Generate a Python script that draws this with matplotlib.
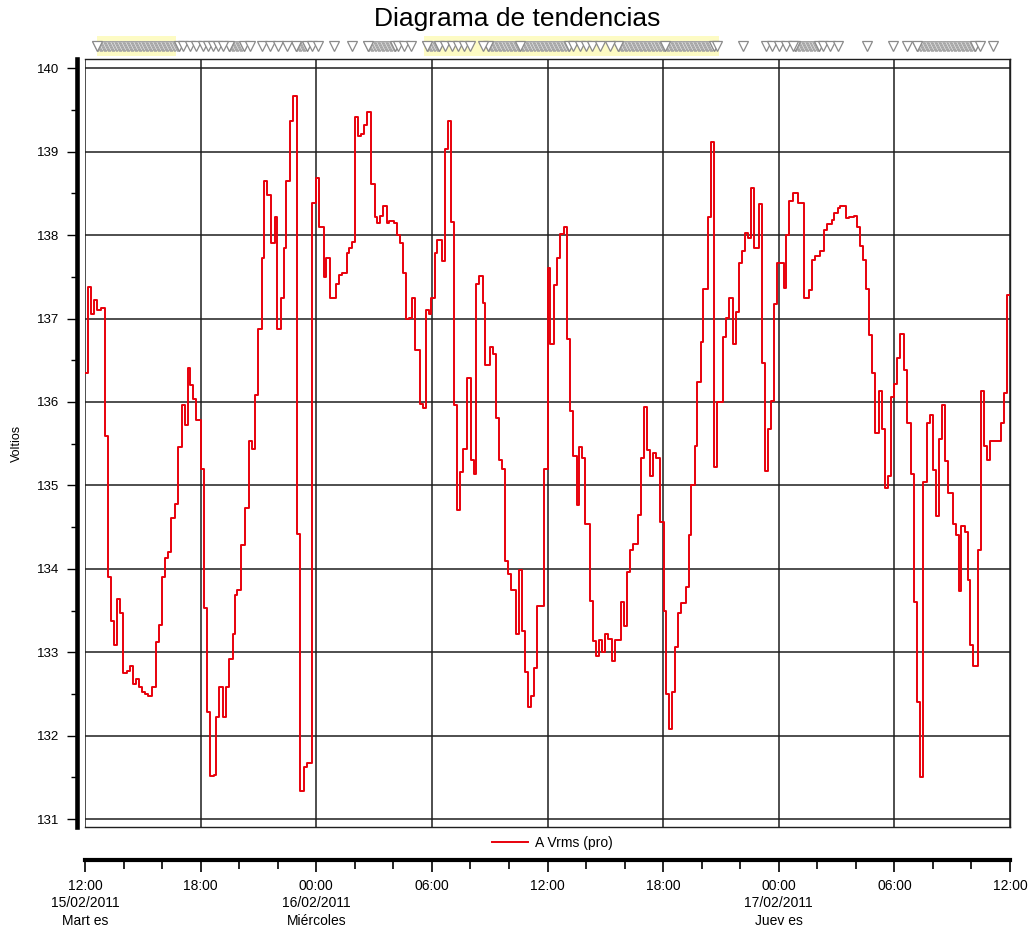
import matplotlib
matplotlib.use("Agg")
import matplotlib.pyplot as plt
import matplotlib.transforms as mtransforms
from matplotlib.ticker import FixedLocator, MultipleLocator
from matplotlib.lines import Line2D
import numpy as np

plt.rcParams['font.family'] = ['Liberation Sans', 'DejaVu Sans']

# horas desde 15/02/2011 12:00 (inicio de cada escalon) y valor medido
horas = [
    0.00, 0.14, 0.31, 0.45, 0.62, 0.84, 1.02, 1.19, 1.36, 1.48, 1.64, 1.81, 1.95, 2.17, 2.34, 2.48,
    2.66, 2.81, 2.97, 3.12, 3.29, 3.50, 3.67, 3.83, 3.98, 4.14, 4.29, 4.45, 4.67, 4.84, 5.02, 5.17,
    5.33, 5.47, 5.60, 5.78, 6.02, 6.19, 6.34, 6.50, 6.69, 6.79, 6.95, 7.17, 7.31, 7.48, 7.66, 7.79,
    7.91, 8.12, 8.28, 8.50, 8.67, 8.81, 8.98, 9.16, 9.31, 9.45, 9.67, 9.84, 9.98, 10.16, 10.31, 10.45,
    10.62, 10.78, 11.02, 11.17, 11.34, 11.50, 11.80, 11.97, 12.14, 12.40, 12.53, 12.69, 13.02, 13.17,
    13.34, 13.57, 13.69, 13.86, 14.00, 14.17, 14.33, 14.48, 14.64, 14.86, 15.03, 15.17, 15.33, 15.48,
    15.66, 15.79, 16.05, 16.21, 16.34, 16.52, 16.67, 16.83, 16.97, 17.14, 17.36, 17.52, 17.67, 17.83,
    17.97, 18.14, 18.29, 18.53, 18.69, 18.84, 19.00, 19.17, 19.31, 19.48, 19.64, 19.84, 20.02, 20.17,
    20.31, 20.47, 20.64, 20.78, 21.03, 21.19, 21.34, 21.50, 21.66, 21.81, 21.97, 22.12, 22.34, 22.50,
    22.66, 22.81, 22.97, 23.14, 23.29, 23.47, 23.83, 24.00, 24.14, 24.33, 24.48, 24.65, 24.87, 25.03,
    25.18, 25.34, 25.51, 25.65, 25.80, 25.97, 26.21, 26.37, 26.52, 26.67, 26.83, 26.98, 27.14, 27.36,
    27.51, 27.82, 27.99, 28.15, 28.29, 28.46, 28.68, 28.83, 28.99, 29.16, 29.31, 29.47, 29.62, 29.85,
    30.02, 30.15, 30.31, 30.46, 30.62, 30.77, 30.93, 31.17, 31.32, 31.47, 31.63, 31.78, 31.95, 32.09,
    32.31, 32.47, 32.62, 32.78, 33.10, 33.26, 33.43, 33.63, 33.79, 33.94, 34.10, 34.25, 34.41, 34.54,
    34.71, 34.95, 35.11, 35.28, 35.43, 35.59, 35.74, 35.90, 36.26, 36.40, 36.55, 36.72, 37.00, 37.32,
    37.55, 37.72, 37.86, 38.16, 38.34, 38.49, 38.75, 38.89, 39.06, 39.20, 39.49, 39.66, 39.90, 40.05,
    40.21, 40.35, 40.52, 40.67, 40.83, 40.98, 41.19, 41.34, 41.50, 41.65, 41.82, 41.98, 42.13, 42.29,
    42.51, 42.67, 42.84, 43.01, 43.16, 43.32, 43.47, 43.68, 43.84, 44.01, 44.16, 44.30, 44.47, 44.61,
    44.76, 45.02, 45.18, 45.33, 45.48, 45.64, 45.83, 45.95, 46.10, 46.34, 46.48, 46.65, 46.81, 46.96,
    47.51, 47.67, 47.82,
]
voltios = [
    136.35, 137.38, 137.06, 137.22, 137.10, 137.13, 135.59, 133.90, 133.38, 133.09, 133.64, 133.47, 132.75, 132.78, 132.84, 132.62,
    132.68, 132.59, 132.53, 132.50, 132.48, 132.58, 133.12, 133.33, 133.90, 134.13, 134.20, 134.61, 134.78, 135.46, 135.96, 135.72,
    136.41, 136.20, 136.04, 135.78, 135.20, 133.53, 132.28, 131.52, 131.53, 132.23, 132.59, 132.23, 132.59, 132.92, 133.22, 133.69,
    133.75, 134.28, 134.73, 135.53, 135.44, 136.08, 136.87, 137.72, 138.65, 138.48, 137.91, 138.22, 136.88, 137.25, 137.85, 138.65,
    139.37, 139.67, 134.42, 131.34, 131.62, 131.67, 138.38, 138.68, 138.10, 137.50, 137.73, 137.24, 137.41, 137.52,
    137.54, 137.79, 137.84, 137.92, 139.42, 139.19, 139.21, 139.32, 139.47, 138.61, 138.22, 138.15, 138.23, 138.35,
    138.15, 138.17, 138.14, 138.00, 137.91, 137.55, 137.00, 137.01, 137.24, 136.62, 135.97, 135.93, 137.10, 137.05,
    137.25, 137.79, 137.94, 137.69, 139.03, 139.37, 138.16, 135.96, 134.70, 135.16, 135.44, 136.29, 135.31, 135.14,
    137.41, 137.51, 137.18, 136.44, 136.66, 136.57, 135.81, 135.31, 135.20, 134.10, 133.94, 133.75, 133.22, 133.99,
    133.25, 132.76, 132.35, 132.48, 132.81, 133.55, 135.20, 137.60, 136.70, 137.40, 137.72, 138.01, 138.10, 136.75,
    135.89, 135.35, 134.77, 135.46, 135.33, 134.54, 133.62, 133.13, 132.96, 133.15, 133.00, 133.22, 133.16, 132.90,
    133.15, 133.60, 133.32, 133.96, 134.22, 134.30, 134.65, 135.33, 135.94, 135.42, 135.11, 135.39, 135.33, 134.56,
    133.50, 132.50, 132.08, 132.52, 133.06, 133.47, 133.59, 133.78, 134.40, 135.01, 135.47, 136.24, 136.72, 137.35,
    138.22, 139.12, 135.22, 136.00, 136.78, 137.01, 137.24, 136.70, 137.08, 137.67, 137.81, 138.03, 137.97, 138.56,
    137.85, 138.37, 136.47, 135.17, 135.68, 136.01, 137.17, 137.67, 137.37, 138.00, 138.41, 138.51, 138.38, 137.24,
    137.34, 137.70, 137.75, 137.81, 138.06, 138.13, 138.18, 138.27, 138.32, 138.35, 138.20, 138.22, 138.23, 138.10,
    137.87, 137.70, 137.35, 136.80, 136.35, 135.63, 136.13, 135.68, 134.97, 135.11, 136.06, 136.22, 136.53, 136.82,
    136.38, 135.75, 135.14, 133.60, 132.40, 131.50, 135.04, 135.75, 135.84, 135.19, 134.63, 135.56, 135.96, 135.29,
    134.91, 134.54, 134.41, 133.73, 134.51, 134.44, 133.87, 133.09, 132.83, 134.23, 136.13, 135.47, 135.31, 135.53,
    135.75, 136.11, 137.28,
]
fin_horas = 48

tick_horas = [0, 6, 12, 18, 24, 30, 36, 42, 48]
tick_textos = ["12:00\n15/02/2011\nMart es", "18:00", "00:00\n16/02/2011\nMiércoles", "06:00",
               "12:00", "18:00", "00:00\n17/02/2011\nJuev es", "06:00", "12:00"]

# marcadores de eventos en la parte superior (horas)
rachas = [(0.62, 4.93), (7.47, 8.30), (10.95, 11.57), (14.69, 16.09), (17.75, 18.42),
          (20.91, 25.17), (27.66, 32.69), (36.84, 38.14), (43.18, 46.19)]
eventos = [5.09, 5.45, 5.76, 6.12, 6.38, 6.64, 6.90, 7.16, 8.56, 9.19, 9.60, 10.02, 10.48,
           11.78, 12.09, 12.92, 13.86, 16.24, 16.55, 16.92, 18.68, 19.04, 19.36, 19.67, 19.98,
           20.65, 22.57, 25.32, 25.69, 26.00, 26.31, 26.73, 27.24, 30.10, 32.80, 34.15, 35.34,
           35.65, 36.01, 36.38, 36.74, 38.30, 38.66, 39.08, 40.58, 41.93, 42.66, 46.45, 47.12]
zonas_amarillas = [(0.6, 4.7), (17.6, 32.9)]

W, H = 1031, 930
fig = plt.figure(figsize=(W / 100, H / 100), dpi=100)
L, R, T, B = 85, 1010, 59, 826.7
ax = fig.add_axes([L / W, 1 - B / H, (R - L) / W, (B - T) / H])

ax.step(horas + [fin_horas], voltios + [voltios[-1]], where='post', color='#e8000b', lw=1.4,
        zorder=3)
ax.set_xlim(0, 48)
ax.set_ylim(130.91, 140.11)

ax.xaxis.set_major_locator(FixedLocator(tick_horas))
ax.tick_params(axis='x', length=0, labelbottom=False)
ax.yaxis.set_major_locator(MultipleLocator(1))
ax.yaxis.set_minor_locator(MultipleLocator(0.5))
ax.tick_params(axis='y', which='major', length=7.5, width=1.0, direction='out', pad=5,
               labelsize=9.5)
ax.tick_params(axis='y', which='minor', length=4.6, width=1.0, direction='out')
ax.grid(True, which='major', color='#1e1e1e', lw=1.1)
ax.set_axisbelow(True)

ax.spines['left'].set_position(('outward', 6))
ax.spines['left'].set_linewidth(3.3)
for s in ['top', 'right', 'bottom']:
    ax.spines[s].set_linewidth(1.0)
    ax.spines[s].set_color('#1e1e1e')

fig.text(17 / W, 1 - 443 / H, 'Voltios', rotation=90, ha='center', va='center', fontsize=9)
fig.text(517 / W, 1 - 19 / H, 'Diagrama de tendencias', ha='center', va='center', fontsize=19)

# marcadores superiores
trans = mtransforms.blended_transform_factory(ax.transData, ax.transAxes)
y_mk = 1 + 13 / (B - T)
for a, b in zonas_amarillas:
    ax.add_patch(plt.Rectangle((a, 1 + 3 / (B - T)), b - a, 20 / (B - T), transform=trans,
                               facecolor='#fdfbc4', edgecolor='none', clip_on=False, zorder=1))
for a, b in rachas:
    xs = np.arange(a, b + 1e-6, 0.07)
    ax.plot(xs, [y_mk] * len(xs), transform=trans, ls='none', marker='v', ms=7,
            mfc='#e4e4e4', mec='#a2a2a2', mew=0.7, clip_on=False, zorder=4)
    ax.plot([a, xs[-1]], [y_mk, y_mk], transform=trans, ls='none', marker='v', ms=7,
            mfc='white', mec='#8a8a8a', mew=0.9, clip_on=False, zorder=4)
ax.plot(eventos, [y_mk] * len(eventos), transform=trans, ls='none', marker='v', ms=7,
        mfc='white', mec='#8a8a8a', mew=0.9, clip_on=False, zorder=5)

# eje de tiempo inferior
axt = fig.add_axes([L / W, 1 - 859.7 / H, (R - L) / W, 0.0001])
axt.set_xlim(0, 48)
axt.set_ylim(0, 1)
for s in ['top', 'right', 'left']:
    axt.spines[s].set_visible(False)
axt.spines['bottom'].set_linewidth(3.0)
axt.yaxis.set_visible(False)
axt.xaxis.set_major_locator(FixedLocator(tick_horas))
axt.xaxis.set_minor_locator(MultipleLocator(2))
axt.set_xticklabels(tick_textos)
axt.tick_params(axis='x', which='major', length=8.6, width=1.2, direction='out', pad=5,
                labelsize=10)
axt.tick_params(axis='x', which='minor', length=6.2, width=1.2, direction='out')
for lbl in axt.get_xticklabels():
    lbl.set_linespacing(1.35)

linea = Line2D([], [], color='#e8000b', lw=1.4)
fig.legend([linea], ['A Vrms (pro)'], loc='center', bbox_to_anchor=(552 / W, 1 - 843 / H),
           frameon=False, fontsize=10, handlelength=2.6, handletextpad=0.5)

fig.savefig('out.png', dpi=100)
